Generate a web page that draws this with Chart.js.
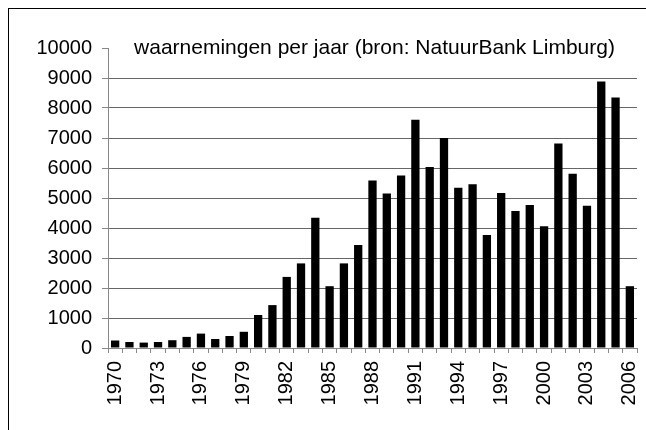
<!DOCTYPE html>
<html>
<head>
<meta charset="utf-8">
<script src="https://cdn.jsdelivr.net/npm/chart.js@4.4.0/dist/chart.umd.min.js"></script>
<style>
    html, body { margin: 0; padding: 0; background: #fff; }
    #wrap { position: relative; width: 646px; height: 430px; }
    #frame { position: absolute; left: 8px; top: 8px; right: 0; bottom: 0; border-left: 1px solid #000; border-top: 1px solid #000; pointer-events: none; }
</style>
</head>
<body>
<div id="wrap">
    <canvas id="obsChart" width="646" height="430"></canvas>
    <div id="frame"></div>
</div>
<script>
const years = [];
for (let y = 1970; y <= 2006; y++) years.push(String(y));

const observations = [
    250, 200, 180, 200, 260, 370, 480, 300, 400, 540,
    1100, 1430, 2370, 2820, 4340, 2060, 2820, 3430, 5580, 5150,
    5750, 7610, 6030, 7000, 5340, 5460, 3770, 5170, 4570, 4770,
    4060, 6820, 5810, 4740, 8880, 8350, 2060
];

const yTicks = [0, 1000, 2000, 3000, 4000, 5000, 6000, 7000, 8000, 9000, 10000];
const chartTitle = 'waarnemingen per jaar (bron: NatuurBank Limburg)';

const font = "'Liberation Sans', Arial, sans-serif";

const innerTitle = {
    id: 'innerTitle',
    afterDraw(chart) {
        const { ctx, chartArea } = chart;
        ctx.save();
        ctx.font = '21px ' + font;
        ctx.fillStyle = '#000';
        ctx.textAlign = 'center';
        ctx.textBaseline = 'middle';
        ctx.fillText(chartTitle, (chartArea.left + chartArea.right) / 2 + 2, chartArea.top);
        ctx.restore();
    }
};

const ctx = document.getElementById('obsChart').getContext('2d');
new Chart(ctx, {
    type: 'bar',
    data: {
        labels: years,
        datasets: [{
            data: observations,
            backgroundColor: '#000',
            borderWidth: 0,
            barPercentage: 0.58,
            categoryPercentage: 1.0
        }]
    },
    options: {
        responsive: false,
        animation: false,
        layout: { padding: { left: 0, right: 9, top: 48, bottom: 0 } },
        plugins: { legend: { display: false }, tooltip: { enabled: false } },
        scales: {
            x: {
                offset: true,
                grid: { offset: true, drawOnChartArea: false, tickLength: 5, color: '#888', tickColor: '#888' },
                border: { color: '#888' },
                ticks: {
                    autoSkip: false,
                    maxRotation: 90,
                    minRotation: 90,
                    padding: 8,
                    color: '#000',
                    font: { family: font, size: 20 },
                    callback: (val, idx) => idx % 3 === 0 ? years[idx] : ''
                },
                afterFit(scale) {
                    scale.height = 82;
                    scale.paddingLeft = 0;
                    scale.paddingRight = 0;
                }
            },
            y: {
                min: 0,
                max: 10000,
                afterBuildTicks(scale) { scale.ticks = yTicks.map(v => ({ value: v })); },
                grid: {
                    tickLength: 6,
                    color: c => (c.tick && (c.tick.value === 10000 || c.tick.value === 0)) ? 'rgba(0,0,0,0)' : '#666',
                    tickColor: '#888'
                },
                border: { color: '#888' },
                ticks: {
                    padding: 10,
                    color: '#000',
                    font: { family: font, size: 20 },
                    callback: v => String(v)
                },
                afterFit(scale) {
                    scale.width = 108;
                    scale.paddingTop = 0;
                    scale.paddingBottom = 0;
                }
            }
        }
    },
    plugins: [innerTitle]
});
</script>
</body>
</html>
